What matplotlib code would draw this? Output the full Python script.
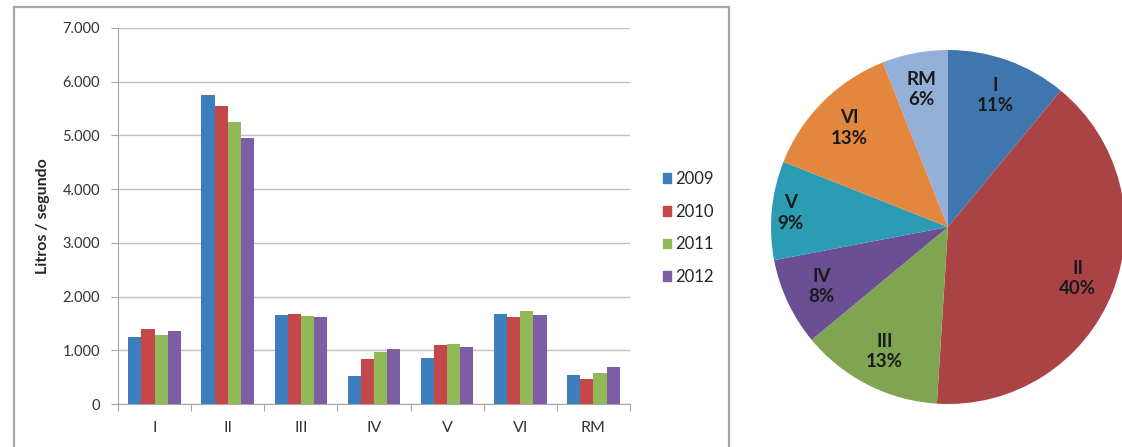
import matplotlib
matplotlib.use('Agg')
import matplotlib.pyplot as plt
from matplotlib.patches import Patch, Rectangle
from matplotlib.ticker import FuncFormatter, FixedLocator
import numpy as np

plt.rcParams['font.family'] = ['Lato', 'DejaVu Sans']

regions = ['I', 'II', 'III', 'IV', 'V', 'VI', 'RM']
years = ['2009', '2010', '2011', '2012']
v2009 = [1250, 5750, 1655, 530, 850, 1680, 535]
v2010 = [1400, 5550, 1680, 830, 1090, 1620, 460]
v2011 = [1290, 5250, 1640, 965, 1110, 1730, 570]
v2012 = [1360, 4955, 1620, 1020, 1070, 1655, 685]
bar_colors = ['#3D7EBF', '#C4474A', '#92B957', '#7D5EA5']

pie_pct = [11, 40, 13, 8, 9, 13, 6]
pie_colors = ['#3F76AE', '#A94346', '#80A552', '#6B4F95', '#2B9CB3', '#E3873F', '#94AFD8']

W, H = 1122, 447
fig = plt.figure(figsize=(W / 100, H / 100), dpi=100)

# frame round the bar chart (bottom is cut off in the reference)
fig.patches.append(Rectangle((14 / W, -0.05), (729 - 14) / W, 1.05 - 7 / H,
                             transform=fig.transFigure, fill=False,
                             edgecolor='#A6A6A6', lw=1.6))

# bar chart
ax = fig.add_axes([118 / W, (H - 404) / H, (630 - 118) / W, (404 - 28) / H])
x = np.arange(len(regions))
bw = 0.18
for j, (vals, col) in enumerate(zip([v2009, v2010, v2011, v2012], bar_colors)):
    ax.bar(x + (j - 1.5) * bw, vals, bw, color=col, label=years[j], zorder=3)

ax.set_xlim(-0.5, len(regions) - 0.5)
ax.set_ylim(0, 7000)
ax.set_yticks(np.arange(0, 7001, 1000))
ax.yaxis.set_major_formatter(FuncFormatter(lambda v, p: f'{int(v):,}'.replace(',', '.')))
ax.grid(axis='y', color='#BFBFBF', lw=1.0, zorder=0)
ax.xaxis.set_major_locator(FixedLocator(np.arange(-0.5, len(regions), 1.0)))
ax.xaxis.set_major_formatter(FuncFormatter(lambda v, p: ''))
ax.xaxis.set_minor_locator(FixedLocator(x))
ax.set_xticklabels(regions, minor=True)
ax.tick_params(axis='x', which='major', length=5, color='#A6A6A6', direction='out')
ax.tick_params(axis='x', which='minor', length=0, pad=12, labelsize=11.5, labelcolor='#333333')
ax.tick_params(axis='y', length=5, color='#A6A6A6', labelsize=10.5, labelcolor='#333333', pad=8)
for s in ['top', 'right']:
    ax.spines[s].set_visible(False)
for s in ['left', 'bottom']:
    ax.spines[s].set_color('#A6A6A6')
ax.set_ylabel('Litros / segundo', fontsize=11.5, fontweight='bold', color='#262626', labelpad=9)

handles = [Patch(color=c) for c in bar_colors]
fig.legend(handles, years, loc='center left', bbox_to_anchor=(648 / W, (H - 228) / H),
           frameon=False, fontsize=12, handlelength=0.5, handleheight=0.5,
           handletextpad=0.25, labelspacing=1.0, labelcolor='#262626')

# pie chart
R = 177
cx, cy = 948, 227
pax = fig.add_axes([(cx - R) / W, (H - cy - R) / H, 2 * R / W, 2 * R / H])
labels = [f'{r}\n{p}%' for r, p in zip(regions, pie_pct)]
wedges, texts = pax.pie(pie_pct, labels=labels, colors=pie_colors, startangle=90,
                        counterclock=False, labeldistance=0.79, radius=1,
                        wedgeprops=dict(linewidth=0),
                        textprops=dict(fontsize=13.5, fontweight='bold', color='#1A1A1A',
                                       linespacing=1.25))
for t in texts:
    t.set_ha('center')
    t.set_va('center')
texts[4].set_position((-0.89, 0.08))
pax.set_xlim(-1, 1)
pax.set_ylim(-1, 1)
pax.set_aspect('auto')
pax.axis('off')

fig.savefig('out.png', dpi=100)
